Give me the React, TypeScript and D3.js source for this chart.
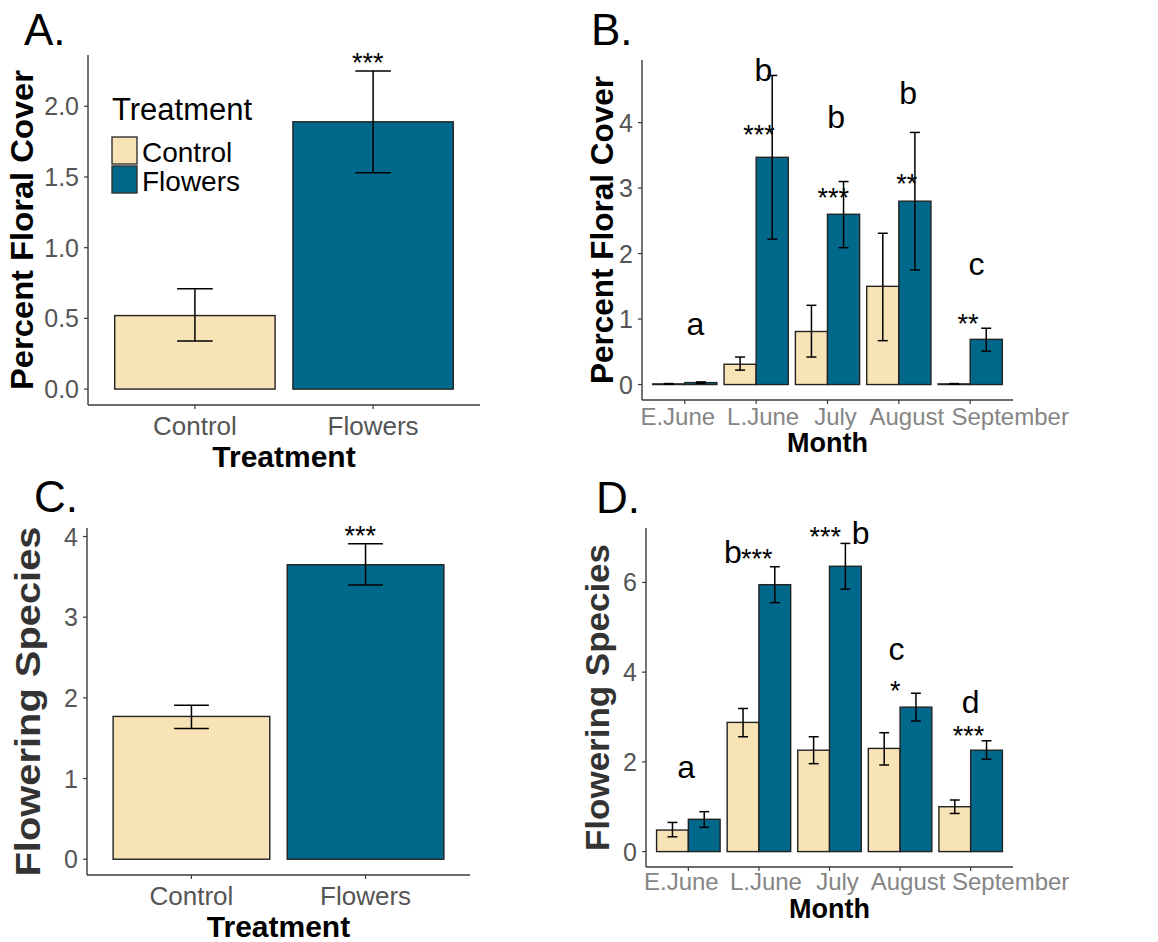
import React from 'react';
import * as d3 from 'd3';

// categories
const treatments = ['Control', 'Flowers'];
const months = ['E.June', 'L.June', 'July', 'August', 'September'];

// A. percent floral cover by treatment (mean, lower, upper)
const coverMean = [0.52, 1.89];
const coverLow = [0.34, 1.53];
const coverHigh = [0.71, 2.25];

// B. percent floral cover by month
const coverCtrl = [0.01, 0.31, 0.81, 1.5, 0.01];
const coverCtrlLow = [0.005, 0.22, 0.42, 0.67, 0.005];
const coverCtrlHigh = [0.015, 0.42, 1.21, 2.31, 0.015];
const coverFlw = [0.03, 3.47, 2.6, 2.8, 0.69];
const coverFlwLow = [0.02, 2.22, 2.09, 1.75, 0.51];
const coverFlwHigh = [0.04, 4.72, 3.1, 3.85, 0.86];

// C. flowering species by treatment
const speciesMean = [1.77, 3.65];
const speciesLow = [1.62, 3.4];
const speciesHigh = [1.91, 3.91];

// D. flowering species by month
const speciesCtrl = [0.48, 2.88, 2.26, 2.3, 1.0];
const speciesCtrlLow = [0.33, 2.56, 1.96, 1.93, 0.85];
const speciesCtrlHigh = [0.65, 3.19, 2.56, 2.65, 1.15];
const speciesFlw = [0.72, 5.95, 6.36, 3.22, 2.26];
const speciesFlwLow = [0.54, 5.55, 5.85, 2.91, 2.06];
const speciesFlwHigh = [0.89, 6.35, 6.87, 3.53, 2.47];

// tick labels
const ticksA = [0, 0.5, 1, 1.5, 2];
const ticksB = [0, 1, 2, 3, 4];
const ticksC = [0, 1, 2, 3, 4];
const ticksD = [0, 2, 4, 6];

// significance marks: category, y value, shift in band steps, text
const notesA = [{ cat: 1, y: 2.24, dx: -0.03, text: '***' }];
const notesC = [{ cat: 1, y: 3.9, dx: -0.03, text: '***' }];
const notesB = [
  { cat: 0, y: 0.76, dx: 0.15, text: 'a' },
  { cat: 1, y: 4.63, dx: 0.1, text: 'b' },
  { cat: 1, y: 3.68, dx: 0.04, text: '***' },
  { cat: 2, y: 3.91, dx: 0.12, text: 'b' },
  { cat: 2, y: 2.71, dx: 0.08, text: '***' },
  { cat: 3, y: 4.29, dx: 0.13, text: 'b' },
  { cat: 3, y: 2.92, dx: 0.11, text: '**' },
  { cat: 4, y: 1.67, dx: 0.09, text: 'c' },
  { cat: 4, y: 0.79, dx: -0.03, text: '**' },
];
const notesD = [
  { cat: 0, y: 1.64, dx: -0.03, text: 'a' },
  { cat: 1, y: 6.44, dx: -0.37, text: 'b' },
  { cat: 1, y: 6.33, dx: -0.03, text: '***' },
  { cat: 2, y: 6.81, dx: -0.06, text: '***' },
  { cat: 2, y: 6.86, dx: 0.44, text: 'b' },
  { cat: 3, y: 4.26, dx: -0.05, text: 'c' },
  { cat: 3, y: 3.37, dx: -0.07, text: '*' },
  { cat: 4, y: 3.1, dx: 0, text: 'd' },
  { cat: 4, y: 2.37, dx: -0.03, text: '***' },
];

const monthLabelShift = [-7, 7, 8, 8, 40];

const FONT = '"Liberation Sans", Arial, Helvetica, sans-serif';
const FILLS = ['#F8E3B6', '#00688B'];
const AXIS = '#3a3a3a';

// ggplot-like expansion of the value axis
function yDomain(high) {
  const m = d3.max(high);
  return [-0.05 * m, m * 1.05];
}

function Note({ x, y, text }) {
  const star = text.startsWith('*');
  return (
    <text x={x} y={y} textAnchor="middle" fontSize={star ? 27 : 32} fill="#000">{text}</text>
  );
}

function Axes({ box, x, y, cats, ticks, fmt, xColor, xOff, xTitleOff, yTitle, yTitle: _t, yTitleX, yTitleSize, yTitleLen, yTitleColor, xTitle, labelShift }) {
  const { left, top, right, bottom } = box;
  return (
    <g fontFamily={FONT}>
      <line x1={left} x2={left} y1={top} y2={bottom} stroke={AXIS} strokeWidth={1.4} />
      <line x1={left} x2={right} y1={bottom} y2={bottom} stroke={AXIS} strokeWidth={1.4} />
      {ticks.map((t) => (
        <g key={t}>
          <line x1={left - 4} x2={left} y1={y(t)} y2={y(t)} stroke={AXIS} strokeWidth={1.2} />
          <text x={left - 9} y={y(t)} dy="0.36em" textAnchor="end" fontSize={25} fill="#555">{fmt(t)}</text>
        </g>
      ))}
      {cats.map((c, i) => (
        <g key={c}>
          <line x1={x(c)} x2={x(c)} y1={bottom} y2={bottom + 4} stroke={AXIS} strokeWidth={1.2} />
          <text x={x(c) + (labelShift ? labelShift[i] : 0)} y={bottom + xOff} textAnchor="middle"
            fontSize={cats.length > 2 ? 24 : 26} fill={xColor}>{c}</text>
        </g>
      ))}
      <text x={(left + right) / 2} y={bottom + xTitleOff} textAnchor="middle" fontWeight="bold"
        fontSize={cats.length > 2 ? 27 : 30} fill="#000">{xTitle}</text>
      <text transform={`translate(${yTitleX},${(top + bottom) / 2}) rotate(-90)`} textAnchor="middle"
        fontWeight="bold" fontSize={yTitleSize} fill={yTitleColor || '#000'}
        textLength={yTitleLen} lengthAdjust="spacingAndGlyphs">{yTitle}</text>
    </g>
  );
}

function TreatmentPanel({ box, mean, low, high, ticks, fmt, notes, letter, letterPos, yTitle, yTitleX, yTitleSize, yTitleLen, yTitleColor, legend }) {
  const { left, top, right, bottom } = box;
  const x = d3.scaleBand().domain(treatments).range([left, right]).paddingInner(0.1).paddingOuter(0.15);
  const y = d3.scaleLinear().domain(yDomain(high)).range([bottom, top]);
  const center = (c) => x(c) + x.bandwidth() / 2;
  const cap = x.step() * 0.1;
  return (
    <g fontFamily={FONT}>
      <text x={letterPos[0]} y={letterPos[1]} fontSize={44} fill="#000">{letter}</text>
      {treatments.map((c, i) => (
        <g key={c}>
          <rect x={x(c)} y={y(mean[i])} width={x.bandwidth()} height={y(0) - y(mean[i])}
            fill={FILLS[i]} stroke="#222" strokeWidth={1.4} />
          <line x1={center(c)} x2={center(c)} y1={y(low[i])} y2={y(high[i])} stroke="#000" strokeWidth={1.5} />
          <line x1={center(c) - cap} x2={center(c) + cap} y1={y(low[i])} y2={y(low[i])} stroke="#000" strokeWidth={1.5} />
          <line x1={center(c) - cap} x2={center(c) + cap} y1={y(high[i])} y2={y(high[i])} stroke="#000" strokeWidth={1.5} />
        </g>
      ))}
      {notes.map((n, i) => (
        <Note key={i} x={center(treatments[n.cat]) + n.dx * x.step()} y={y(n.y)} text={n.text} />
      ))}
      <Axes box={box} x={center} y={y} cats={treatments} ticks={ticks} fmt={fmt} xColor="#555" xOff={30}
        xTitleOff={62} yTitle={yTitle} yTitleX={yTitleX} yTitleSize={yTitleSize} yTitleLen={yTitleLen}
        yTitleColor={yTitleColor} xTitle="Treatment" />
      {legend && (
        <g>
          <text x={left + 24} y={top + 65} fontSize={31} fill="#000">Treatment</text>
          {treatments.map((c, i) => (
            <g key={c}>
              <rect x={left + 24} y={top + 82 + i * 29} width={25} height={27} fill={FILLS[i]} stroke="#333" strokeWidth={1.4} />
              <text x={left + 54} y={top + 107 + i * 29} fontSize={28} fill="#000">{c}</text>
            </g>
          ))}
        </g>
      )}
    </g>
  );
}

function MonthPanel({ box, ctrl, ctrlLow, ctrlHigh, flw, flwLow, flwHigh, ticks, notes, letter, letterPos, yTitle, yTitleX, yTitleSize, yTitleLen, yTitleColor, xOff, xTitleOff }) {
  const { left, top, right, bottom } = box;
  const x = d3.scaleBand().domain(months).range([left, right]).paddingInner(0.1).paddingOuter(0.15);
  const inner = d3.scaleBand().domain(treatments).range([0, x.bandwidth()]);
  const y = d3.scaleLinear().domain(yDomain(flwHigh.concat(ctrlHigh))).range([bottom, top]);
  const center = (c) => x(c) + x.bandwidth() / 2;
  const cap = x.step() * 0.07;
  const series = [
    { mean: ctrl, low: ctrlLow, high: ctrlHigh },
    { mean: flw, low: flwLow, high: flwHigh },
  ];
  return (
    <g fontFamily={FONT}>
      <text x={letterPos[0]} y={letterPos[1]} fontSize={44} fill="#000">{letter}</text>
      {months.map((m, i) => (
        <g key={m}>
          {series.map((s, k) => {
            const bx = x(m) + inner(treatments[k]);
            const cx = bx + inner.bandwidth() / 2;
            return (
              <g key={k}>
                <rect x={bx} y={y(s.mean[i])} width={inner.bandwidth()} height={y(0) - y(s.mean[i])}
                  fill={FILLS[k]} stroke="#222" strokeWidth={1.4} />
                <line x1={cx} x2={cx} y1={y(s.low[i])} y2={y(s.high[i])} stroke="#000" strokeWidth={1.5} />
                <line x1={cx - cap} x2={cx + cap} y1={y(s.low[i])} y2={y(s.low[i])} stroke="#000" strokeWidth={1.5} />
                <line x1={cx - cap} x2={cx + cap} y1={y(s.high[i])} y2={y(s.high[i])} stroke="#000" strokeWidth={1.5} />
              </g>
            );
          })}
        </g>
      ))}
      {notes.map((n, i) => (
        <Note key={i} x={center(months[n.cat]) + n.dx * x.step()} y={y(n.y)} text={n.text} />
      ))}
      <Axes box={box} x={center} y={y} cats={months} ticks={ticks} fmt={d3.format('d')} xColor="#858585"
        xOff={xOff} xTitleOff={xTitleOff} yTitle={yTitle} yTitleX={yTitleX} yTitleSize={yTitleSize}
        yTitleLen={yTitleLen} yTitleColor={yTitleColor} xTitle="Month" labelShift={monthLabelShift} />
    </g>
  );
}

export default function App() {
  return (
    <svg width={1158} height={942} style={{ position: 'absolute', left: 0, top: 0, background: '#fff' }}>
      <rect width={1158} height={942} fill="#fff" />
      <TreatmentPanel box={{ left: 88, top: 55, right: 480, bottom: 405 }} mean={coverMean} low={coverLow}
        high={coverHigh} ticks={ticksA} fmt={d3.format('.1f')} notes={notesA} letter="A." letterPos={[24, 45]}
        yTitle="Percent Floral Cover" yTitleX={33} yTitleSize={32} yTitleLen={320} legend />
      <MonthPanel box={{ left: 642, top: 60, right: 1013, bottom: 400 }} ctrl={coverCtrl} ctrlLow={coverCtrlLow}
        ctrlHigh={coverCtrlHigh} flw={coverFlw} flwLow={coverFlwLow} flwHigh={coverFlwHigh} ticks={ticksB}
        notes={notesB} letter="B." letterPos={[591, 45]} yTitle="Percent Floral Cover" yTitleX={613}
        yTitleSize={31} yTitleLen={308} xOff={25} xTitleOff={52} />
      <TreatmentPanel box={{ left: 87, top: 528, right: 470, bottom: 875 }} mean={speciesMean} low={speciesLow}
        high={speciesHigh} ticks={ticksC} fmt={d3.format('d')} notes={notesC} letter="C." letterPos={[34, 512]}
        yTitle="Flowering Species" yTitleX={40} yTitleSize={35} yTitleLen={350} yTitleColor="#333" />
      <MonthPanel box={{ left: 646, top: 528, right: 1013, bottom: 867 }} ctrl={speciesCtrl} ctrlLow={speciesCtrlLow}
        ctrlHigh={speciesCtrlHigh} flw={speciesFlw} flwLow={speciesFlwLow} flwHigh={speciesFlwHigh} ticks={ticksD}
        notes={notesD} letter="D." letterPos={[596, 513]} yTitle="Flowering Species" yTitleX={609}
        yTitleSize={34} yTitleLen={307} yTitleColor="#333" xOff={23} xTitleOff={51} />
    </svg>
  );
}
